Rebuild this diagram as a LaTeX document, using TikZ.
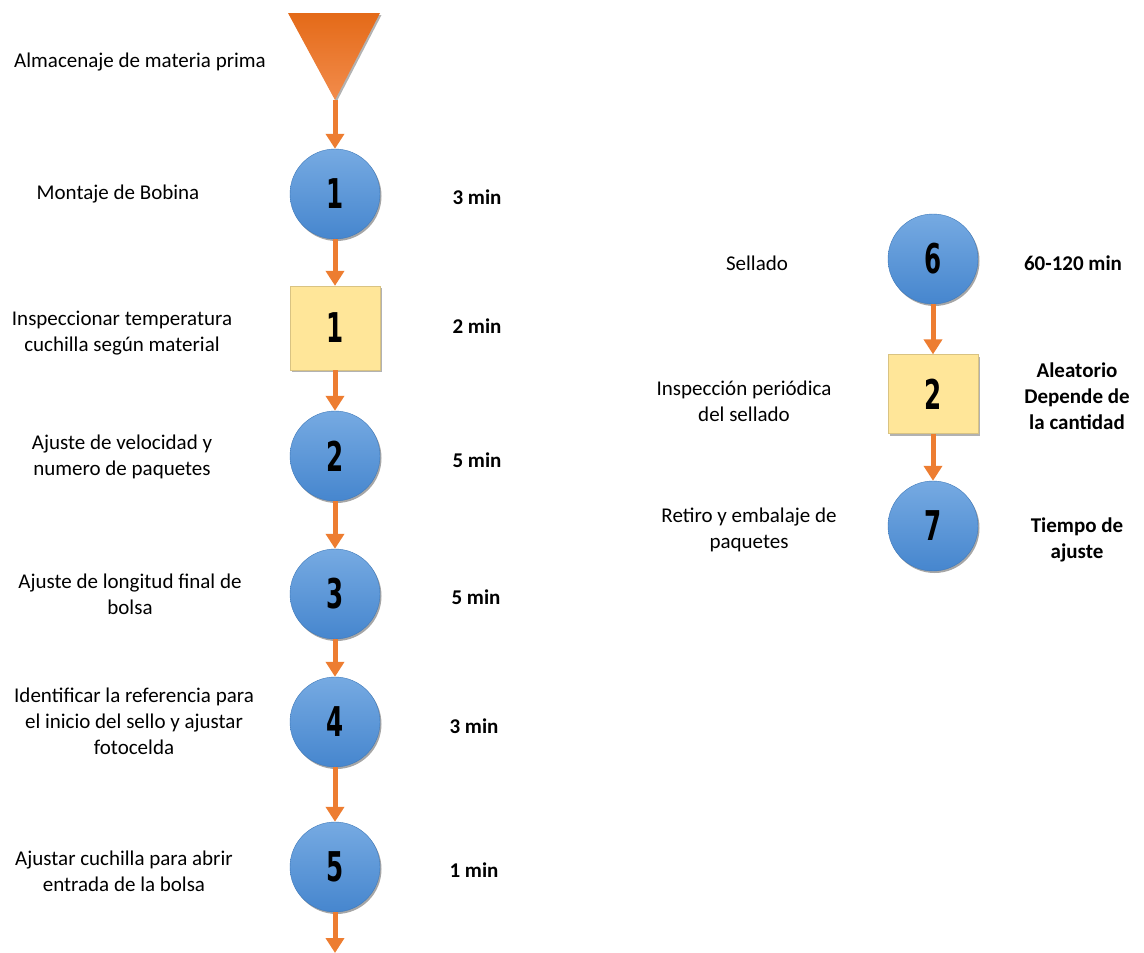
\documentclass[tikz,border=0pt]{standalone}
\usepackage{fontspec}
\setmainfont{Carlito}
\newfontfamily\digitfont{DejaVu Sans}
\usetikzlibrary{arrows.meta,shadows}

\definecolor{flowarrow}{RGB}{237,125,49}
\definecolor{opbluetop}{RGB}{118,170,226}
\definecolor{opbluebot}{RGB}{70,134,206}
\definecolor{inspyellow}{RGB}{255,230,153}
\definecolor{tritop}{RGB}{228,106,24}
\definecolor{tribot}{RGB}{242,140,76}

\newcommand{\stepnum}[1]{\scalebox{0.6}[1]{\digitfont\bfseries\fontsize{41}{41}\selectfont #1}}

\tikzset{
  operation/.style={circle, minimum size=90pt, inner sep=0pt,
    top color=opbluetop, bottom color=opbluebot, draw=opbluebot!90!black, line width=0.4pt,
    drop shadow={shadow xshift=1.5pt, shadow yshift=-2pt, opacity=0.35, fill=black}},
  inspection/.style={rectangle, minimum width=90pt, minimum height=84pt, inner sep=0pt,
    fill=inspyellow, draw=inspyellow!85!black, line width=0.3pt,
    drop shadow={shadow xshift=1.5pt, shadow yshift=-2pt, opacity=0.3, fill=black}},
  flow/.style={draw=flowarrow, line width=5pt,
    -{Triangle[width=18pt,length=15pt]}, shorten >=0pt},
  desc/.style={align=center, font=\fontsize{21}{26}\selectfont, inner sep=0pt},
  timelbl/.style={align=center, font=\fontsize{21}{26}\selectfont\bfseries, inner sep=0pt}
}

\begin{document}
\begin{tikzpicture}[x=1pt,y=-1pt]
\useasboundingbox (0,0) rectangle (1144,953);

% raw material storage
\shade[top color=tritop, bottom color=tribot,
  drop shadow={shadow xshift=1.5pt, shadow yshift=-2pt, opacity=0.3, fill=black}]
  (288,13) -- (380,13) -- (335,100) -- cycle;
\coordinate (store) at (335,100);
\node[desc] (lstore) at (140,62) {Almacenaje de materia prima};

% left column
\node[operation] (op1) at (335,194) {\stepnum{1}};
\node[inspection] (in1) at (335,328) {\stepnum{1}};
\node[operation] (op2) at (335,456) {\stepnum{2}};
\node[operation] (op3) at (335,594) {\stepnum{3}};
\node[operation] (op4) at (335,722) {\stepnum{4}};
\node[operation] (op5) at (335,867) {\stepnum{5}};
\coordinate (exit) at (335,953);

\draw[flow] (store) -- (op1);
\draw[flow] (op1) -- (in1);
\draw[flow] (in1) -- (op2);
\draw[flow] (op2) -- (op3);
\draw[flow] (op3) -- (op4);
\draw[flow] (op4) -- (op5);
\draw[flow] (op5) -- (exit);

\node[desc] (l1) at (118,194) {Montaje de Bobina};
\node[desc] (l2) at (122,333) {Inspeccionar temperatura\\cuchilla según material};
\node[desc] (l3) at (122,457) {Ajuste de velocidad y\\numero de paquetes};
\node[desc] (l4) at (130,594) {Ajuste de longitud final de\\bolsa};
\node[desc] (l5) at (134,721) {Identificar la referencia para\\el inicio del sello y ajustar\\fotocelda};
\node[desc] (l6) at (124,871) {Ajustar cuchilla para abrir\\entrada de la bolsa};

\node[timelbl] (t1) at (477,197) {3 min};
\node[timelbl] (t2) at (477,326) {2 min};
\node[timelbl] (t3) at (477,460) {5 min};
\node[timelbl] (t4) at (476,597) {5 min};
\node[timelbl] (t5) at (474,726) {3 min};
\node[timelbl] (t6) at (474,870) {1 min};

% right column
\node[operation] (op6) at (933,259) {\stepnum{6}};
\node[inspection, minimum height=79pt] (in2) at (933,394) {\stepnum{2}};
\node[operation] (op7) at (933,526) {\stepnum{7}};

\draw[flow] (op6) -- (in2);
\draw[flow] (in2) -- (op7);

\node[desc] (l7) at (757,263) {Sellado};
\node[desc] (l8) at (744,401) {Inspección periódica\\del sellado};
\node[desc] (l9) at (749,530) {Retiro y embalaje de\\paquetes};

\node[timelbl] (t7) at (1073,263) {60-120 min};
\node[timelbl] (t8) at (1077,396) {Aleatorio\\Depende de\\la cantidad};
\node[timelbl] (t9) at (1077,540) {Tiempo de\\ajuste};
\end{tikzpicture}
\end{document}
